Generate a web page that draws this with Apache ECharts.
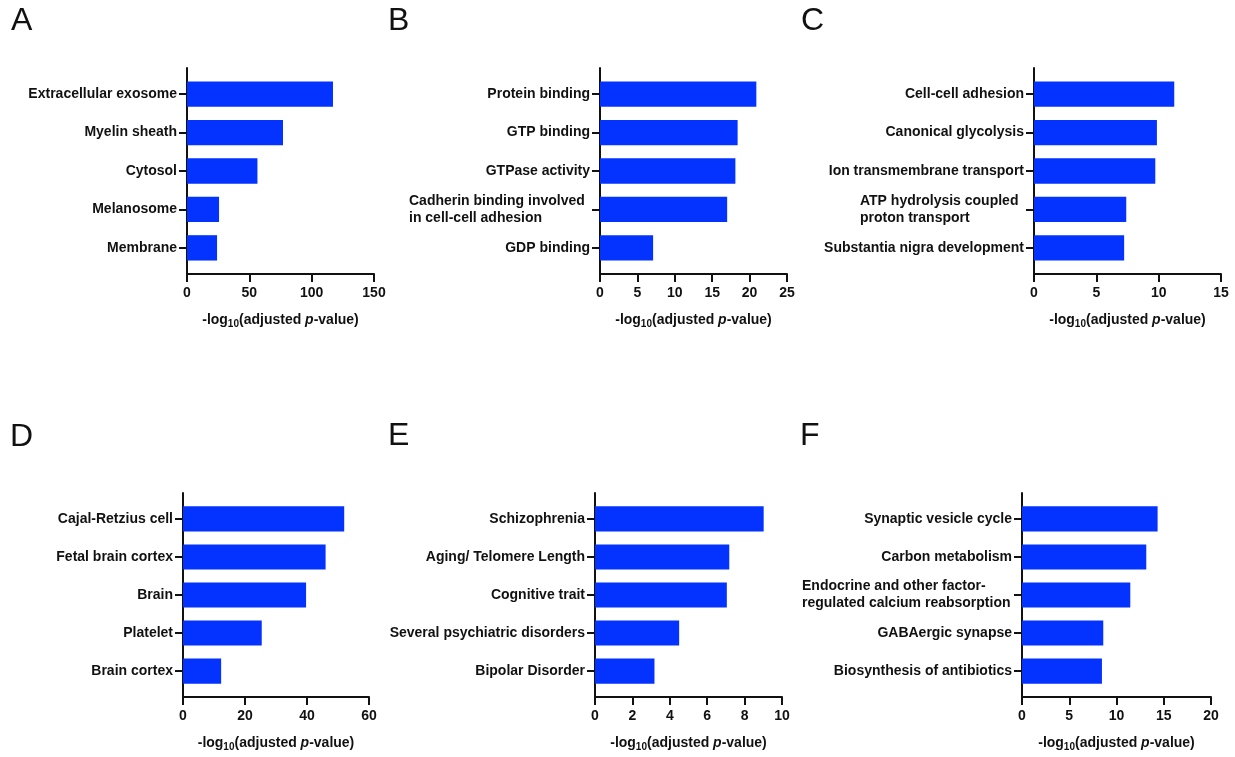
<!DOCTYPE html>
<html>
<head>
<meta charset="utf-8">
<script src="https://cdn.jsdelivr.net/npm/echarts@6.0.0/dist/echarts.min.js"></script>
<style>
  html, body { margin: 0; padding: 0; background: #ffffff; }
  #chart { width: 1235px; height: 757px; }
</style>
</head>
<body>
<div id="chart"></div>
<script>
// ---------------- data ----------------
const panelLetters = ['A', 'B', 'C', 'D', 'E', 'F'];

const catsA = ['Extracellular exosome', 'Myelin sheath', 'Cytosol', 'Melanosome', 'Membrane'];
const valsA = [117.1, 77.0, 56.5, 25.7, 24.1];

const catsB = ['Protein binding', 'GTP binding', 'GTPase activity', 'Cadherin binding involved \nin cell-cell adhesion', 'GDP binding'];
const valsB = [20.9, 18.4, 18.1, 17.0, 7.1];

const catsC = ['Cell-cell adhesion', 'Canonical glycolysis', 'Ion transmembrane transport', 'ATP hydrolysis coupled \nproton transport', 'Substantia nigra development'];
const valsC = [11.25, 9.86, 9.73, 7.4, 7.23];

const catsD = ['Cajal-Retzius cell', 'Fetal brain cortex', 'Brain', 'Platelet', 'Brain cortex'];
const valsD = [52.0, 46.0, 39.7, 25.4, 12.3];

const catsE = ['Schizophrenia', 'Aging/ Telomere Length', 'Cognitive trait', 'Several psychiatric disorders', 'Bipolar Disorder'];
const valsE = [9.02, 7.18, 7.05, 4.5, 3.18];

const catsF = ['Synaptic vesicle cycle', 'Carbon metabolism', 'Endocrine and other factor-\nregulated calcium reabsorption', 'GABAergic synapse', 'Biosynthesis of antibiotics'];
const valsF = [14.35, 13.15, 11.46, 8.6, 8.46];

const axisMax = [150, 25, 15, 60, 10, 20];
const axisStep = [50, 5, 5, 20, 2, 5];
const axisTitle = '-log{sub|10}(adjusted {it|p}-value)';

// ---------------- layout / style ----------------
const allCats = [catsA, catsB, catsC, catsD, catsE, catsF];
const allVals = [valsA, valsB, valsC, valsD, valsE, valsF];

const grids = [
  { left: 187, top: 68, width: 187, height: 206 },
  { left: 600, top: 68, width: 187, height: 206 },
  { left: 1034, top: 68, width: 187, height: 206 },
  { left: 183, top: 493, width: 186, height: 204 },
  { left: 595, top: 493, width: 187, height: 204 },
  { left: 1022, top: 493, width: 189, height: 204 }
];
const letterPos = [
  { left: 11, top: 5 }, { left: 388, top: 5 }, { left: 801, top: 5 },
  { left: 10, top: 421 }, { left: 388, top: 420 }, { left: 800, top: 420 }
];

const FONT = '"Liberation Sans", Arial, Helvetica, sans-serif';
const INK = '#111111';
const BAR = '#0433FF';

const ctx = document.createElement('canvas').getContext('2d');
ctx.font = 'bold 14px "Liberation Sans", Arial, sans-serif';
function textW(s) { return ctx.measureText(s).width; }

const option = {
  animation: false,
  backgroundColor: '#ffffff',
  title: [],
  grid: [],
  xAxis: [],
  yAxis: [],
  series: []
};

const idx5 = [0, 1, 2, 3, 4];

allCats.forEach((cats, p) => {
  option.title.push({
    text: panelLetters[p],
    left: letterPos[p].left,
    top: letterPos[p].top,
    padding: 0,
    textStyle: { fontFamily: FONT, fontSize: 32, fontWeight: 'normal', color: INK }
  });
  option.grid.push(Object.assign({ containLabel: false }, grids[p]));

  // width of the widest line in any multi-line label (lines left-aligned)
  let mlW = 0;
  cats.forEach(c => { if (c.indexOf('\n') >= 0) c.split('\n').forEach(l => { mlW = Math.max(mlW, textW(l)); }); });

  option.xAxis.push({
    type: 'value',
    gridIndex: p,
    min: 0,
    max: axisMax[p],
    interval: axisStep[p],
    splitLine: { show: false },
    axisLine: { show: true, onZero: false, lineStyle: { color: INK, width: 2 } },
    axisTick: { show: true, length: 8, lineStyle: { color: INK, width: 2 } },
    axisLabel: { margin: 12, color: INK, fontFamily: FONT, fontSize: 14, fontWeight: 'bold' },
    name: axisTitle,
    nameLocation: 'middle',
    nameGap: 37,
    nameTextStyle: {
      color: INK, fontFamily: FONT, fontSize: 14, fontWeight: 'bold', lineHeight: 18,
      rich: {
        sub: { fontFamily: FONT, fontSize: 10, fontWeight: 'bold', color: INK, lineHeight: 8, verticalAlign: 'bottom' },
        it: { fontFamily: FONT, fontSize: 14, fontWeight: 'bold', fontStyle: 'italic', color: INK, lineHeight: 18 }
      }
    }
  });

  option.yAxis.push({
    type: 'value',
    gridIndex: p,
    inverse: true,
    min: -0.68,
    max: 4.68,
    splitLine: { show: false },
    axisLine: { show: true, onZero: false, lineStyle: { color: INK, width: 2 } },
    axisTick: { show: true, length: 8, customValues: idx5, lineStyle: { color: INK, width: 2 } },
    axisLabel: {
      customValues: idx5,
      margin: 10,
      color: INK, fontFamily: FONT, fontSize: 14, fontWeight: 'bold', lineHeight: 17,
      formatter: function (v) {
        const c = cats[Math.round(v)];
        if (c === undefined) return '';
        if (c.indexOf('\n') >= 0) return c.split('\n').map(l => '{ml|' + l + '}').join('\n');
        return c;
      },
      rich: {
        ml: { width: Math.ceil(mlW) + 1, align: 'left', fontFamily: FONT, fontSize: 14, fontWeight: 'bold', color: INK, lineHeight: 17 }
      }
    }
  });

  option.series.push({
    type: 'custom',
    xAxisIndex: p,
    yAxisIndex: p,
    encode: { x: 0, y: 1 },
    data: allVals[p].map((v, i) => [v, i]),
    z: 1,
    renderItem: function (params, api) {
      const v = api.value(0), i = api.value(1);
      const s = api.coord([0, i]);
      const e = api.coord([v, i]);
      const band = Math.abs(api.size([0, 1])[1]);
      const h = band * 0.66;
      return {
        type: 'rect',
        shape: { x: s[0], y: s[1] - h / 2, width: e[0] - s[0], height: h },
        style: { fill: BAR }
      };
    }
  });
});

const chart = echarts.init(document.getElementById('chart'), null, { renderer: 'canvas' });
chart.setOption(option);
</script>
</body>
</html>
